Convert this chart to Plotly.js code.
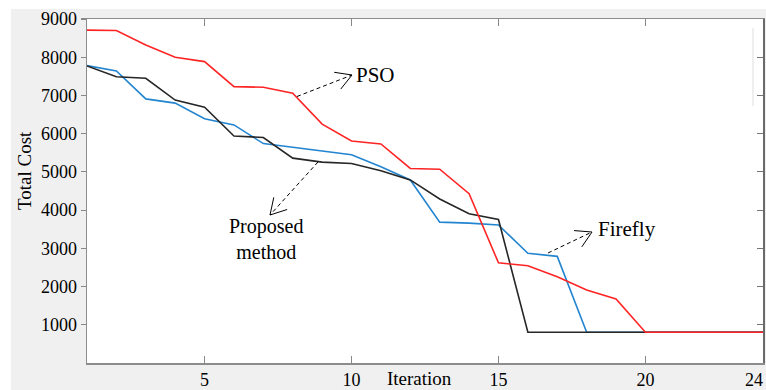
<!DOCTYPE html>
<html>
<head>
<meta charset="utf-8">
<script src="https://cdn.plot.ly/plotly-3.0.1.min.js"></script>
<style>html,body{margin:0;padding:0;background:#fff;}#chart{width:766px;height:390px;}</style>
</head>
<body>
<div id="chart"></div>
<script>
// ---- data ----
const iterations = [1,2,3,4,5,6,7,8,9,10,11,12,13,14,15,16,17,18,19,20,21,22,23,24];
const psoCost      = [8710,8700,8320,8000,7885,7230,7215,7060,6250,5810,5730,5090,5070,4430,2620,2545,2255,1910,1675,805,805,805,805,805];
const fireflyCost  = [7780,7640,6910,6800,6390,6230,5740,5640,5545,5450,5135,4790,3685,3660,3610,2870,2790,805,805,805,805,805,805,805];
const proposedCost = [7770,7490,7450,6880,6690,5940,5900,5360,5255,5220,5030,4790,4290,3905,3755,805,805,805,805,805,805,805,805,805];
const xTickVals = [5,10,15,20,24];
const xTickText = ['5','10','15','20',''];
const lastTickLabel = '24';
const yTickVals = [1000,2000,3000,4000,5000,6000,7000,8000,9000];

// ---- geometry helpers for annotation arrows (pixels -> paper) ----
const W = 766, H = 390, ML = 87, MR = 3, MT = 19, MB = 27;
const PW = W - ML - MR, PH = H - MT - MB;
const px = x => (x - ML) / PW;
const py = y => (H - MB - y) / PH;

const font = 'Liberation Serif, Times New Roman, serif';
const shapes = [];
// white strips outside the grey figure frame
shapes.push({type:'rect', xref:'paper', yref:'paper', x0:px(0), x1:px(11), y0:py(400), y1:py(0), fillcolor:'#ffffff', line:{width:0}, layer:'above'});
shapes.push({type:'rect', xref:'paper', yref:'paper', x0:px(0), x1:px(770), y0:py(9), y1:py(0), fillcolor:'#ffffff', line:{width:0}, layer:'above'});
// faint vertical line artifact
shapes.push({type:'line', xref:'paper', yref:'paper', x0:px(753), x1:px(753), y0:py(28), y1:py(106), line:{color:'#dedede', width:1}});

function arrow(x0, y0, x1, y1) {
  shapes.push({type:'line', xref:'paper', yref:'paper', x0:px(x0), y0:py(y0), x1:px(x1), y1:py(y1),
    line:{color:'#000', width:1, dash:'4px,3px'}});
  const ang = Math.atan2(y0 - y1, x0 - x1);
  const L = 18, a = Math.PI / 6;
  [ang + a, ang - a].forEach(t => {
    shapes.push({type:'line', xref:'paper', yref:'paper', x0:px(x1), y0:py(y1),
      x1:px(x1 + L * Math.cos(t)), y1:py(y1 + L * Math.sin(t)), line:{color:'#000', width:1}});
  });
}
arrow(297, 96.5, 352, 75);
arrow(318, 162, 270, 215);
arrow(548, 253, 592, 232);

const traces = [
  {x: iterations, y: fireflyCost, name:'Firefly', type:'scatter', mode:'lines', line:{color:'#2385d0', width:1.6}},
  {x: iterations, y: proposedCost, name:'Proposed method', type:'scatter', mode:'lines', line:{color:'#262626', width:1.6}},
  {x: iterations, y: psoCost, name:'PSO', type:'scatter', mode:'lines', line:{color:'#ff2424', width:1.6}},
  {x: [], y: [], yaxis:'y2', type:'scatter', showlegend:false, hoverinfo:'skip'}
];

const layout = {
  width: W, height: H,
  margin: {l: ML, r: MR, t: MT, b: MB, pad: 0},
  paper_bgcolor: '#f0f0f0',
  plot_bgcolor: '#ffffff',
  showlegend: false,
  font: {family: font, size: 18, color: '#000'},
  xaxis: {
    range: [1, 24], tickvals: xTickVals, ticktext: xTickText,
    ticks: 'inside', ticklen: 7, tickcolor: '#888', tickwidth: 1.2,
    showline: true, linecolor: '#8c8c8c', linewidth: 1.5, mirror: 'ticks',
    showgrid: false, zeroline: false,
    tickfont: {family: font, size: 18, color: '#000'}
  },
  yaxis: {
    range: [0, 9000], tickvals: yTickVals,
    ticks: 'outside', ticklen: 5, tickcolor: '#888', tickwidth: 1.2,
    showline: true, linecolor: '#8c8c8c', linewidth: 1.5,
    showgrid: false, zeroline: false,
    tickfont: {family: font, size: 18, color: '#000'}
  },
  yaxis2: {
    overlaying: 'y', side: 'right', anchor: 'x',
    range: [0, 9000], tickvals: yTickVals, showticklabels: false,
    ticks: 'inside', ticklen: 6, tickcolor: '#777', tickwidth: 1.2,
    showline: true, linecolor: '#6a6a6a', linewidth: 1.5,
    showgrid: false, zeroline: false
  },
  shapes: shapes,
  annotations: [
    {text: lastTickLabel, xref:'paper', yref:'paper', x:px(765), y:py(380), xanchor:'right', yanchor:'middle', showarrow:false, font:{family:font, size:18}},
    {text:'Iteration', xref:'paper', yref:'paper', x:px(419), y:py(378), xanchor:'center', yanchor:'middle', showarrow:false, font:{family:font, size:19}},
    {text:'Total Cost', xref:'paper', yref:'paper', x:px(24), y:py(171), xanchor:'center', yanchor:'middle', textangle:-90, showarrow:false, font:{family:font, size:19}},
    {text:'PSO', xref:'paper', yref:'paper', x:px(354), y:py(75), xanchor:'left', yanchor:'middle', showarrow:false, font:{family:font, size:21}},
    {text:'Firefly', xref:'paper', yref:'paper', x:px(596), y:py(229), xanchor:'left', yanchor:'middle', showarrow:false, font:{family:font, size:21}},
    {text:'Proposed<br>method', xref:'paper', yref:'paper', x:px(266), y:py(238.5), xanchor:'center', yanchor:'middle', align:'center', showarrow:false, font:{family:font, size:20}}
  ]
};

Plotly.newPlot('chart', traces, layout, {displayModeBar: false, staticPlot: true});
</script>
</body>
</html>
